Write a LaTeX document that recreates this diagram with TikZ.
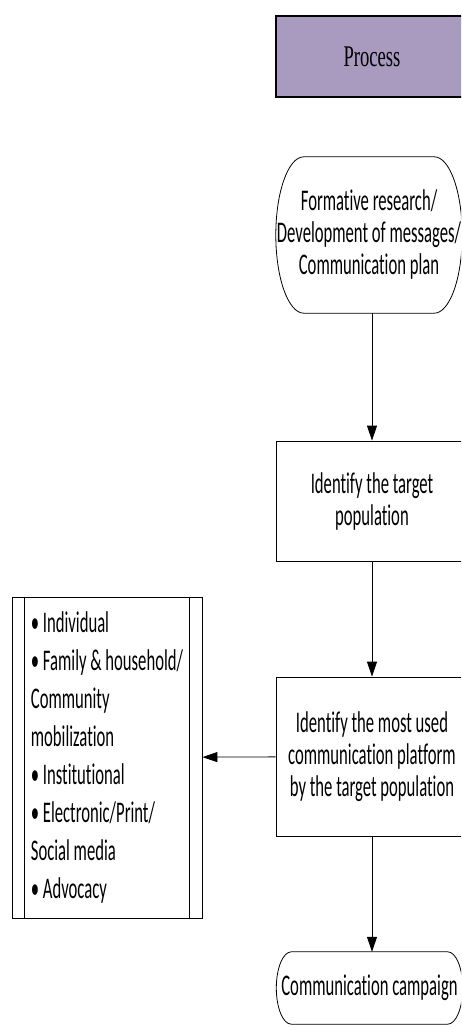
\documentclass[tikz,border=0pt]{standalone}
\usepackage{fontspec}
\setmainfont{Carlito}[FakeStretch=0.555,Ligatures=NoCommon]
\newfontfamily\headfont{Liberation Serif}[FakeStretch=0.62]
\usetikzlibrary{arrows.meta,calc}
\definecolor{processfill}{RGB}{169,154,192}

% terminator outline round a node: name, radius of the end arcs
\newcommand{\termframe}[2]{%
 \draw[line width=0.8pt] let \p1=(#1.north), \p2=(#1.south), \n1={(\y1-\y2)/2} in
  ([xshift=#2]#1.north west) -- ([xshift=-#2]#1.north east)
  arc[start angle=90,end angle=-90,x radius=#2,y radius=\n1]
  -- ([xshift=#2]#1.south west)
  arc[start angle=270,end angle=90,x radius=#2,y radius=\n1] -- cycle;}

\begin{document}
\begin{tikzpicture}[
 x=1pt,y=1pt,
 every node/.style={font=\fontsize{30}{32}\selectfont,inner sep=0pt},
 stepbox/.style={draw,line width=0.8pt,align=center,minimum width=192pt},
 terminal/.style={align=center,minimum width=186pt},
 flow/.style={line width=0.8pt,-{Triangle[length=15pt,width=10pt]}}
]
 \useasboundingbox (0,0) rectangle (461,-1027);
 \clip (0,0) rectangle (461,-1027);

 \node[stepbox,fill=processfill,line width=2pt,minimum height=81pt,
  font=\headfont\fontsize{30}{32}\selectfont] (process) at (372,-56.5) {Process};

 \node[terminal,minimum height=156pt] (plan) at (369,-235)
  {Formative research/\\Development of messages/\\Communication plan};
 \termframe{plan}{28pt}

 \node[stepbox,minimum height=120pt] (target) at (372,-501)
  {Identify the target\\population};
 \node[stepbox,minimum height=159pt] (platform) at (372,-756.5)
  {Identify the most used\\communication platform\\by the target population};

 \node[terminal,minimum height=72pt] (campaign) at (369.5,-988)
  {Communication campaign};
 \termframe{campaign}{15pt}

 % channels listed beside the platform step
 \node[draw,line width=0.8pt,minimum width=190pt,minimum height=321pt,
  align=left,font=\fontsize{30}{38}\selectfont] (channels) at (107,-757.5)
  {\textbullet~Individual\\
   \textbullet~Family \& household/\\
   Community\\
   mobilization\\
   \textbullet~Institutional\\
   \textbullet~Electronic/Print/\\
   Social media\\
   \textbullet~Advocacy};
 \draw[line width=0.8pt] ([xshift=13pt]channels.north west) -- ([xshift=13pt]channels.south west);
 \draw[line width=0.8pt] ([xshift=-13pt]channels.north east) -- ([xshift=-13pt]channels.south east);

 \draw[flow] (plan.south -| target.north) -- (target.north);
 \draw[flow] (target) -- (platform);
 \draw[flow] (platform.south) -- (campaign.north -| platform.south);
 \draw[flow] (platform) -- (channels);
\end{tikzpicture}
\end{document}
